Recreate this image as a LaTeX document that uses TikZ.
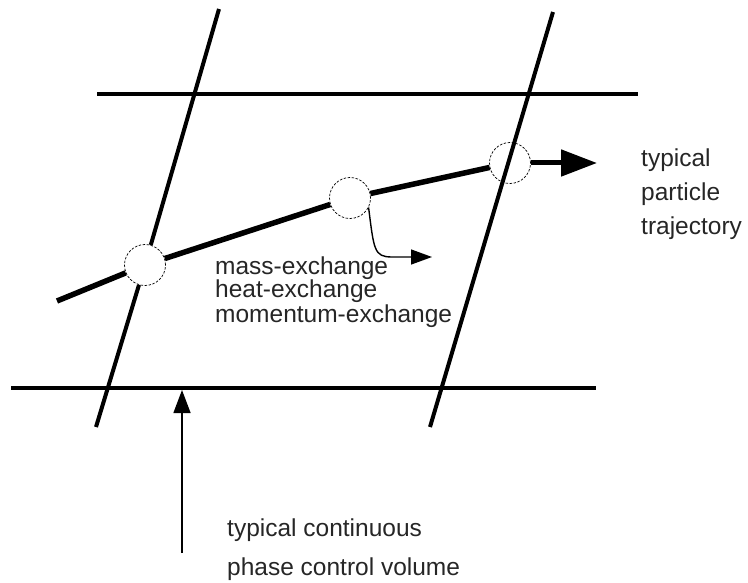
\documentclass[tikz,border=0pt]{standalone}
\usepackage{fontspec}
\setmainfont{Liberation Sans}
\usetikzlibrary{arrows.meta}
\begin{document}
\begin{tikzpicture}[x=1pt,y=-1pt,
  bar/.style={line width=4pt},
  hbar/.style={line width=3.2pt},
  traj/.style={line width=5.5pt},
  cv/.style={circle,draw,dash pattern=on 2.5pt off 1.5pt,line width=0.7pt,minimum size=41pt,inner sep=0pt},
  lbl/.style={anchor=base west,inner sep=0pt,font=\fontsize{24.5}{22}\selectfont,text=black!85},
  thinline/.style={line width=1.4pt}]
\useasboundingbox (0,0) rectangle (748,583);
% coordinates
\coordinate (tl1) at (97,94);  \coordinate (tl2) at (638,94);
\coordinate (bl1) at (11,388); \coordinate (bl2) at (596,388);
\coordinate (la) at (219,9);   \coordinate (lb) at (96,427);
\coordinate (ra) at (553,12);  \coordinate (rb) at (430,427);
\coordinate (ts) at (57,301);
\coordinate (tip) at (597,163);
\coordinate (ex) at (432,257);
\coordinate (vb) at (182,553); \coordinate (vt) at (182,390);
% control volumes
\node[cv] (c1) at (145,265) {};
\node[cv] (c2) at (350,198) {};
\node[cv] (c3) at (510,163) {};
% horizontal lines
\draw[hbar] (tl1) -- (tl2);
\draw[hbar] (bl1) -- (bl2);
% slanted lines
\draw[bar] (la) -- (c1);
\draw[bar] (c1) -- (lb);
\draw[bar] (ra) -- (rb);
% trajectory
\draw[traj] (ts) -- (c1);
\draw[traj] (c1) -- (c2);
\draw[traj] (c2) -- (c3);
\draw[line width=5pt,-{Triangle[length=36pt,width=26pt]}] (c3) -- (tip);
% exchange arrow
\draw[thinline,-{Triangle[length=21pt,width=15pt]}] (c2.-27) .. controls (374,250) and (374,257) .. (392,257) -- (ex);
% control volume arrow
\draw[thinline,-{Triangle[length=23pt,width=17pt]}] (vb) -- (vt);
% labels
\node[lbl,align=left] (mx) at (215,322) {mass-exchange\\[-0.2pt]heat-exchange\\[0.5pt]momentum-exchange};
\node[lbl] (t1) at (641,167) {typical};
\node[lbl] (t2) at (641,201) {particle};
\node[lbl] (t3) at (641,235) {trajectory};
\node[lbl] (p1) at (227,536) {typical continuous};
\node[lbl] (p2) at (227,575) {phase control volume};
\end{tikzpicture}
\end{document}
